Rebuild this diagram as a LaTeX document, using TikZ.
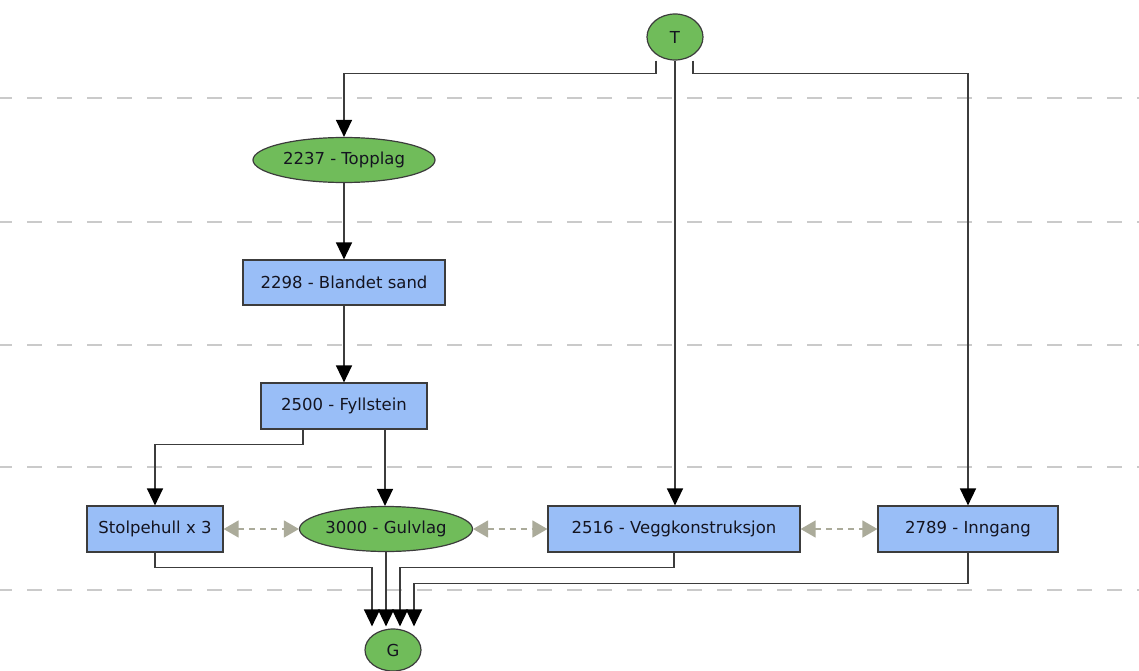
\documentclass[tikz,border=0pt]{standalone}
\usepackage{fontspec}
\setmainfont{DejaVu Sans}
\usetikzlibrary{arrows.meta,shapes.geometric}

\definecolor{nodegreen}{HTML}{70BC5A}
\definecolor{nodeblue}{HTML}{99BEF7}
\definecolor{edgegray}{HTML}{3C3C3C}
\definecolor{lanegray}{HTML}{CACACA}
\definecolor{linkgray}{HTML}{ABAB9A}
\definecolor{textdark}{HTML}{141420}

\tikzset{
  base/.style={draw=edgegray, line width=1.2pt, text=textdark,
    font=\fontsize{16.5}{19}\selectfont, inner sep=0pt},
  term/.style={base, ellipse, fill=nodegreen},
  layer/.style={base, ellipse, fill=nodegreen},
  unit/.style={base, rectangle, fill=nodeblue},
  flow/.style={draw=edgegray, line width=1.5pt,
    -{Triangle[length=17pt,width=16pt,color=black]}},
  link/.style={draw=linkgray, line width=1.5pt, dash pattern=on 6pt off 5pt,
    {Triangle[length=15pt,width=17pt]}-{Triangle[length=15pt,width=17pt]}},
  lane/.style={draw=lanegray, line width=1.3pt, dash pattern=on 15pt off 15pt,
    dash phase=3pt}
}

\begin{document}
\begin{tikzpicture}[x=1pt,y=-1pt]
  \useasboundingbox (0,0) rectangle (1139,671);

  % horizontal lane separators
  \foreach \yy in {98,222,345,467,590}
    \draw[lane] (0,\yy) -- (1139,\yy);

  % nodes
  \node[term, minimum width=56pt, minimum height=46pt] (T) at (675,37) {T};
  \node[layer, minimum width=182pt, minimum height=45pt] (Topplag) at (344,160) {2237 - Topplag};
  \node[unit, minimum width=202pt, minimum height=45pt] (Blandet) at (344,282.5) {2298 - Blandet sand};
  \node[unit, minimum width=166pt, minimum height=46pt] (Fyll) at (344,406) {2500 - Fyllstein};
  \node[unit, minimum width=136pt, minimum height=46pt] (Stolpe) at (155,529) {Stolpehull x 3};
  \node[layer, minimum width=173pt, minimum height=45pt] (Gulv) at (386,529) {3000 - Gulvlag};
  \node[unit, minimum width=252pt, minimum height=46pt] (Vegg) at (674,529) {2516 - Veggkonstruksjon};
  \node[unit, minimum width=180pt, minimum height=46pt] (Inngang) at (968,529) {2789 - Inngang};
  \node[term, minimum width=56pt, minimum height=42pt] (G) at (393,650) {G};

  % connectors from the top
  \draw[flow] ([xshift=-19pt]T.south) -- ++(0,13) -| (Topplag.north);
  \draw[flow] (T.south) -- (T.south |- Vegg.north);
  \draw[flow] ([xshift=18pt]T.south) -- ++(0,13) -| (Inngang.north);

  % main chain
  \draw[flow] (Topplag.south) -- (Blandet.north);
  \draw[flow] (Blandet.south) -- (Fyll.north);
  \draw[flow] ([xshift=-41pt]Fyll.south) -- ++(0,15) -| (Stolpe.north);
  \draw[flow] ([xshift=41pt]Fyll.south) -- ([xshift=41pt]Fyll.south |- Gulv.north);

  % connectors into G
  \draw[flow] (Stolpe.south) -- ++(0,15) -| ([xshift=-21pt,yshift=2pt]G.north);
  \draw[flow] (Gulv.south) -- ([xshift=-7pt,yshift=2pt]G.north);
  \draw[flow] (Vegg.south) -- ++(0,15) -| ([xshift=7pt,yshift=2pt]G.north);
  \draw[flow] (Inngang.south) -- ++(0,31) -| ([xshift=21pt,yshift=2pt]G.north);

  % same-level relations
  \draw[link] (Stolpe.east) -- (Gulv.west);
  \draw[link] (Gulv.east) -- (Vegg.west);
  \draw[link] (Vegg.east) -- (Inngang.west);
\end{tikzpicture}
\end{document}
